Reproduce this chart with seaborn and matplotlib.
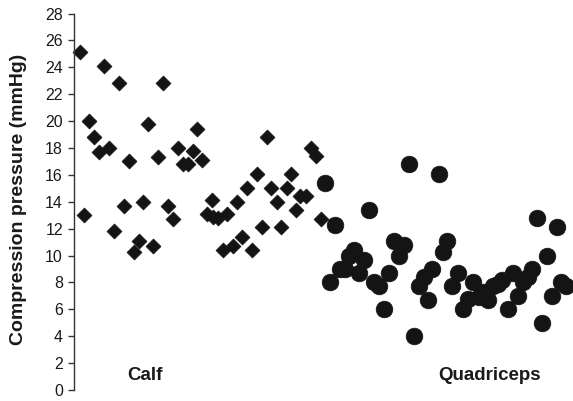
import matplotlib
matplotlib.use("Agg")
import matplotlib.pyplot as plt
import seaborn as sns
import pandas as pd

# Participant position along the x axis and measured interface pressure (mmHg)
calf_pos = [1.2, 2.1, 3.1, 4.1, 5.1, 6.1, 7.1, 8.1, 9.1, 10.1, 11.0, 12.0, 13.0,
            13.9, 14.9, 15.9, 16.9, 17.9, 18.9, 19.9, 20.8, 21.8, 22.8, 23.9,
            24.7, 25.7, 26.7, 27.7, 27.8, 28.8, 29.9, 30.7, 31.8, 32.7, 33.7,
            34.7, 35.7, 36.6, 37.7, 38.6, 39.5, 40.6, 41.5, 42.6, 43.5, 44.5,
            45.2, 46.5, 47.5, 48.4, 49.4]
calf_pressure = [25.1, 13.0, 20.0, 18.8, 17.7, 24.1, 18.0, 11.8, 22.8, 13.7, 17.0,
                 10.3, 11.1, 14.0, 19.8, 10.7, 17.3, 22.8, 13.7, 12.7, 18.0, 16.8,
                 16.8, 17.8, 19.4, 17.1, 13.1, 14.1, 12.9, 12.8, 10.4, 13.1, 10.7,
                 14.0, 11.4, 15.0, 10.4, 16.1, 12.1, 18.8, 15.0, 14.0, 12.1, 15.0,
                 16.1, 13.4, 14.4, 14.4, 18.0, 17.4, 12.7]

quad_pos = [50.3, 51.4, 52.4, 53.4, 54.4, 55.2, 56.2, 57.2, 58.2, 59.2, 60.2, 61.2,
            62.2, 63.2, 64.2, 65.2, 66.2, 67.1, 68.2, 69.2, 70.1, 71.0, 71.8, 73.1,
            73.9, 74.8, 75.8, 77.0, 77.9, 79.0, 79.9, 81.1, 81.9, 83.0, 83.9, 84.9,
            85.8, 86.9, 87.9, 88.9, 89.9, 90.9, 91.7, 92.7, 93.7, 94.7, 95.7, 96.7,
            97.6, 98.6]
quad_pressure = [15.4, 8.0, 12.3, 9.0, 9.0, 10.0, 10.4, 8.7, 9.7, 13.4, 8.0, 7.7,
                 6.0, 8.7, 11.1, 10.0, 10.8, 16.8, 4.0, 7.7, 8.4, 6.7, 9.0, 16.1,
                 10.3, 11.1, 7.7, 8.7, 6.0, 6.8, 8.0, 6.9, 7.3, 6.7, 7.7, 7.9, 8.2,
                 6.0, 8.7, 7.0, 8.0, 8.4, 9.0, 12.8, 5.0, 10.0, 7.0, 12.1, 8.0, 7.7]

site_labels = ["Calf", "Quadriceps"]
y_ticks = list(range(0, 29, 2))

sns.set_theme(style="white")
plt.rcParams["font.family"] = ["Liberation Sans", "DejaVu Sans"]

calf = pd.DataFrame({"pos": calf_pos, "pressure": calf_pressure})
quad = pd.DataFrame({"pos": quad_pos, "pressure": quad_pressure})

fig = plt.figure(figsize=(5.73, 4.01), dpi=100)
ax = fig.add_axes([74 / 573, 11 / 401, 1 - 74 / 573, (390 - 13.5) / 401])

ink = "#141414"
sns.scatterplot(data=calf, x="pos", y="pressure", marker="D", s=58,
                color=ink, edgecolor=ink, linewidth=0.5, ax=ax, legend=False)
sns.scatterplot(data=quad, x="pos", y="pressure", marker="o", s=144,
                color=ink, edgecolor=ink, linewidth=0.5, ax=ax, legend=False)

ax.set_xlim(0, 100)
ax.set_ylim(0, 28)
ax.set_yticks(y_ticks)
ax.set_yticklabels([str(t) for t in y_ticks], fontsize=11.5, color="#1a1a1a")
ax.set_xticks([])
ax.set_xlabel("")
ax.set_ylabel("Compression pressure (mmHg)", fontsize=14, fontweight="bold",
              color="#1a1a1a")
ax.yaxis.label.set_verticalalignment("center")
ax.yaxis.set_label_coords(-0.111, 0.505)

for side in ["top", "right", "bottom"]:
    ax.spines[side].set_visible(False)
ax.spines["left"].set_color("#333333")
ax.spines["left"].set_linewidth(1.0)
ax.tick_params(axis="y", direction="out", length=4.5, width=1.0,
               color="#333333", pad=3.5, left=True)
for coll in ax.collections:
    coll.set_clip_on(False)

# Site names written along the bottom of the plot
ax.text(14.2, 1.05, site_labels[0], ha="center", va="center",
        fontsize=13.5, fontweight="bold", color="#1a1a1a")
ax.text(83.2, 1.05, site_labels[1], ha="center", va="center",
        fontsize=13.5, fontweight="bold", color="#1a1a1a")

fig.savefig("out.png", dpi=100)
